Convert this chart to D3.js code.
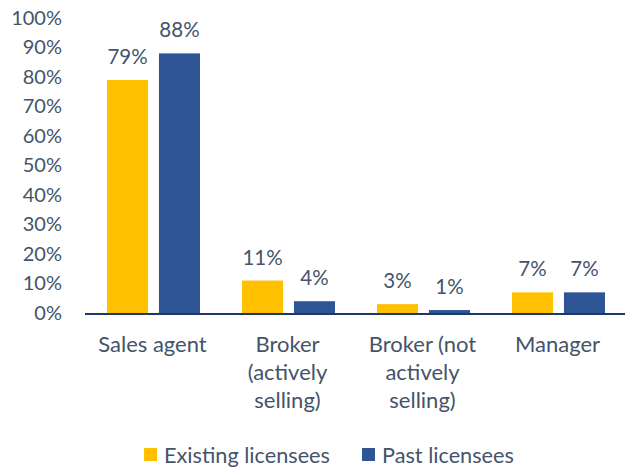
<!DOCTYPE html>
<html><head><meta charset="utf-8">
<script src="https://cdn.jsdelivr.net/npm/d3@7"></script>
<style>body{margin:0;background:#fff}text{font-family:Lato,"Open Sans",sans-serif;fill:#44546A}</style>
</head><body><svg id="c" width="625" height="468"></svg>
<script>
const categories = [["Sales agent"],["Broker","(actively","selling)"],["Broker (not","actively","selling)"],["Manager"]];
const seriesNames = ["Existing licensees","Past licensees"];
const existing = [79,11,3,7];
const past = [88,4,1,7];
const yTicks = [0,10,20,30,40,50,60,70,80,90,100];
const colors = ["#FFC000","#2F5597"];

const svg = d3.select("#c");
const x = d3.scaleBand().domain(d3.range(categories.length)).range([85,625]).paddingInner(0).paddingOuter(0);
const xs = d3.scaleBand().domain([0,1]).range([22,115]).paddingInner(0.21);
const y = d3.scaleLinear().domain([0,100]).range([313,18]);

const yAxis = d3.axisLeft(y).tickValues(yTicks).tickFormat(d=>d+"%").tickSize(0).tickPadding(0);
const gy = svg.append("g").attr("transform","translate(62,0)").call(yAxis);
gy.select(".domain").remove();
gy.selectAll("text").style("font-size","20px").attr("fill","#44546A").style("font-family","Lato");

const data = [existing, past];
data.forEach((vals,si)=>{
  const g = svg.append("g");
  g.selectAll("rect").data(vals).join("rect")
   .attr("x",(d,i)=>x(i)+xs(si)).attr("width",xs.bandwidth())
   .attr("y",d=>y(d)).attr("height",d=>y(0)-y(d)).attr("fill",colors[si]);
  g.selectAll("text").data(vals).join("text")
   .attr("x",(d,i)=>x(i)+xs(si)+xs.bandwidth()/2).attr("y",d=>y(d)-16)
   .attr("text-anchor","middle").style("font-size","20.5px").text(d=>d+"%");
});

svg.append("line").attr("x1",85).attr("x2",625).attr("y1",y(0)+1).attr("y2",y(0)+1)
  .attr("stroke","#1F3864").attr("stroke-width",2);

const xg = svg.append("g");
categories.forEach((lines,i)=>{
  const t = xg.append("text").attr("x",x(i)+x.bandwidth()/2).attr("y",352).attr("text-anchor","middle").style("font-size","22px");
  lines.forEach((l,j)=>t.append("tspan").attr("x",x(i)+x.bandwidth()/2).attr("dy",j?28:0).text(l));
});

const leg = svg.append("g");
const legX = [144,362];
seriesNames.forEach((n,i)=>{
  leg.append("rect").attr("x",legX[i]).attr("y",448).attr("width",13).attr("height",13).attr("fill",colors[i]);
  leg.append("text").attr("x",legX[i]+20).attr("y",463).style("font-size","21.7px").text(n);
});
</script></body></html>
